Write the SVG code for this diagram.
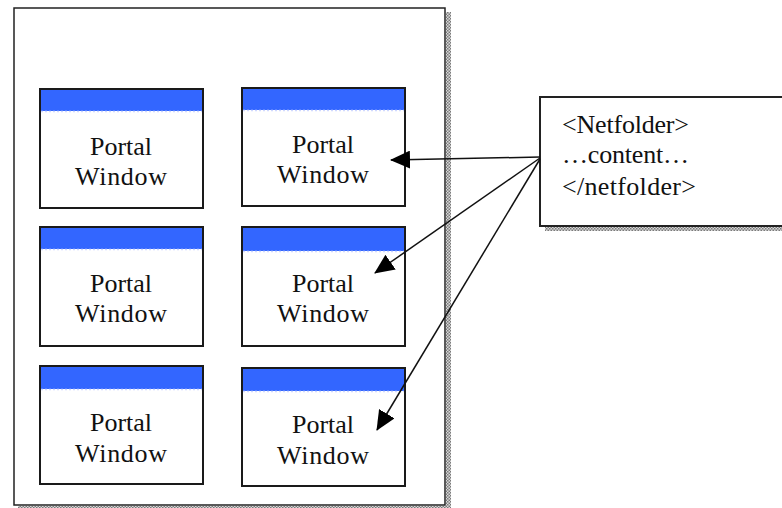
<svg xmlns="http://www.w3.org/2000/svg" width="782" height="508" viewBox="0 0 782 508">
  <defs>
    <pattern id="hatch" width="3" height="3" patternUnits="userSpaceOnUse">
      <rect width="3" height="3" fill="#d8d8d8"/>
      <rect width="1.5" height="1.5" fill="#7a7a7a"/>
      <rect x="1.5" y="1.5" width="1.5" height="1.5" fill="#7a7a7a"/>
    </pattern>
    <marker id="arrow" viewBox="0 0 20 18" refX="19" refY="9" markerWidth="20" markerHeight="18" markerUnits="userSpaceOnUse" orient="auto">
      <path d="M0,0 L20,9 L0,18 Z" fill="#000"/>
    </marker>
  </defs>
  <style>
    .win { fill: #fff; stroke: #1a1a1a; stroke-width: 2; }
    .bar { fill: #3366ff; }
    .sep { stroke: #cfd8ff; stroke-width: 1.5; stroke-dasharray: 2 2; }
    text { font-family: "Liberation Serif", "Times New Roman", serif; font-size: 26px; fill: #111; }
    .lbl { text-anchor: middle; }
    .conn { stroke: #111; stroke-width: 1.5; fill: none; }
  </style>
  <rect width="782" height="508" fill="#fff"/>

  <g id="portal">
    <rect x="446" y="12" width="5" height="496" fill="url(#hatch)"/>
    <rect x="18" y="506" width="433" height="2" fill="url(#hatch)"/>
    <rect x="14" y="8" width="431" height="497" fill="#fff" stroke="#222" stroke-width="1.5"/>
  </g>

  <g id="window1">
    <rect class="win" x="40" y="89" width="163" height="119"/>
    <rect class="bar" x="41" y="90" width="161" height="21"/>
    <line class="sep" x1="41" y1="111.5" x2="202" y2="111.5"/>
    <text class="lbl" x="121" y="155" textLength="62">Portal</text>
    <text class="lbl" x="121" y="185" textLength="92">Window</text>
  </g>
  <g id="window2">
    <rect class="win" x="242" y="88" width="163" height="118"/>
    <rect class="bar" x="243" y="89" width="161" height="21"/>
    <line class="sep" x1="243" y1="110.5" x2="404" y2="110.5"/>
    <text class="lbl" x="323" y="153" textLength="62">Portal</text>
    <text class="lbl" x="323" y="183" textLength="92">Window</text>
  </g>
  <g id="window3">
    <rect class="win" x="40" y="227" width="163" height="119"/>
    <rect class="bar" x="41" y="228" width="161" height="21"/>
    <line class="sep" x1="41" y1="249.5" x2="202" y2="249.5"/>
    <text class="lbl" x="121" y="292" textLength="62">Portal</text>
    <text class="lbl" x="121" y="322" textLength="92">Window</text>
  </g>
  <g id="window4">
    <rect class="win" x="242" y="227" width="163" height="119"/>
    <rect class="bar" x="243" y="228" width="161" height="23"/>
    <line class="sep" x1="243" y1="251.5" x2="404" y2="251.5"/>
    <text class="lbl" x="323" y="292" textLength="62">Portal</text>
    <text class="lbl" x="323" y="322" textLength="92">Window</text>
  </g>
  <g id="window5">
    <rect class="win" x="40" y="366" width="163" height="118"/>
    <rect class="bar" x="41" y="367" width="161" height="22"/>
    <line class="sep" x1="41" y1="389.5" x2="202" y2="389.5"/>
    <text class="lbl" x="121" y="431" textLength="62">Portal</text>
    <text class="lbl" x="121" y="462" textLength="92">Window</text>
  </g>
  <g id="window6">
    <rect class="win" x="242" y="368" width="163" height="118"/>
    <rect class="bar" x="243" y="369" width="161" height="22"/>
    <line class="sep" x1="243" y1="391.5" x2="404" y2="391.5"/>
    <text class="lbl" x="323" y="433" textLength="62">Portal</text>
    <text class="lbl" x="323" y="464" textLength="92">Window</text>
  </g>

  <g id="netfolder">
    <rect x="545" y="226" width="237" height="5" fill="url(#hatch)"/>
    <rect x="540" y="97" width="245" height="129" fill="#fff" stroke="#222" stroke-width="2"/>
    <text x="562" y="133" textLength="127">&lt;Netfolder&gt;</text>
    <text x="562" y="163" textLength="127">…content…</text>
    <text x="562" y="195" textLength="134">&lt;/netfolder&gt;</text>
  </g>

  <g id="connectors">
    <path class="conn" d="M540,157 L391,160" marker-end="url(#arrow)"/>
    <path class="conn" d="M540,158 L375,273" marker-end="url(#arrow)"/>
    <path class="conn" d="M540,159 L377,430" marker-end="url(#arrow)"/>
  </g>
</svg>
